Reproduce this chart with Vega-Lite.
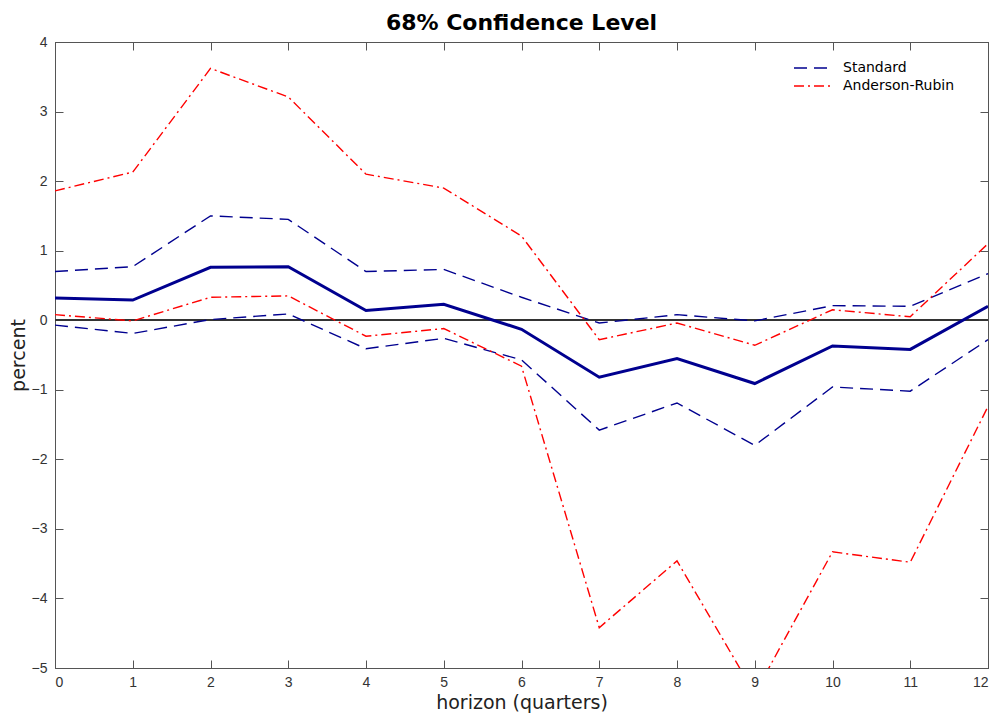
{
  "$schema": "https://vega.github.io/schema/vega-lite/v6.json",
  "autosize": "none",
  "width": 933,
  "height": 626,
  "padding": {"left": 55, "top": 42, "right": 7, "bottom": 51},
  "background": "white",
  "config": {
    "view": {"stroke": "#555", "strokeWidth": 1},
    "font": "DejaVu Sans"
  },
  "title": {"text": "68% Confidence Level", "fontSize": 22, "font": "DejaVu Sans", "fontWeight": "bold", "color": "#000", "offset": 0},
  "data": {
    "values": [
      {"h": 0, "series": "Estimate", "bound": "mid", "value": 0.32},
      {"h": 1, "series": "Estimate", "bound": "mid", "value": 0.29},
      {"h": 2, "series": "Estimate", "bound": "mid", "value": 0.76},
      {"h": 3, "series": "Estimate", "bound": "mid", "value": 0.77},
      {"h": 4, "series": "Estimate", "bound": "mid", "value": 0.14},
      {"h": 5, "series": "Estimate", "bound": "mid", "value": 0.23},
      {"h": 6, "series": "Estimate", "bound": "mid", "value": -0.13},
      {"h": 7, "series": "Estimate", "bound": "mid", "value": -0.82},
      {"h": 8, "series": "Estimate", "bound": "mid", "value": -0.55},
      {"h": 9, "series": "Estimate", "bound": "mid", "value": -0.91},
      {"h": 10, "series": "Estimate", "bound": "mid", "value": -0.37},
      {"h": 11, "series": "Estimate", "bound": "mid", "value": -0.42},
      {"h": 12, "series": "Estimate", "bound": "mid", "value": 0.2},

      {"h": 0, "series": "Standard", "bound": "upper", "value": 0.7},
      {"h": 1, "series": "Standard", "bound": "upper", "value": 0.77},
      {"h": 2, "series": "Standard", "bound": "upper", "value": 1.5},
      {"h": 3, "series": "Standard", "bound": "upper", "value": 1.45},
      {"h": 4, "series": "Standard", "bound": "upper", "value": 0.7},
      {"h": 5, "series": "Standard", "bound": "upper", "value": 0.73},
      {"h": 6, "series": "Standard", "bound": "upper", "value": 0.33},
      {"h": 7, "series": "Standard", "bound": "upper", "value": -0.04},
      {"h": 8, "series": "Standard", "bound": "upper", "value": 0.08},
      {"h": 9, "series": "Standard", "bound": "upper", "value": -0.01},
      {"h": 10, "series": "Standard", "bound": "upper", "value": 0.21},
      {"h": 11, "series": "Standard", "bound": "upper", "value": 0.2},
      {"h": 12, "series": "Standard", "bound": "upper", "value": 0.67},

      {"h": 0, "series": "Standard", "bound": "lower", "value": -0.07},
      {"h": 1, "series": "Standard", "bound": "lower", "value": -0.19},
      {"h": 2, "series": "Standard", "bound": "lower", "value": 0.01},
      {"h": 3, "series": "Standard", "bound": "lower", "value": 0.09},
      {"h": 4, "series": "Standard", "bound": "lower", "value": -0.41},
      {"h": 5, "series": "Standard", "bound": "lower", "value": -0.26},
      {"h": 6, "series": "Standard", "bound": "lower", "value": -0.57},
      {"h": 7, "series": "Standard", "bound": "lower", "value": -1.58},
      {"h": 8, "series": "Standard", "bound": "lower", "value": -1.19},
      {"h": 9, "series": "Standard", "bound": "lower", "value": -1.8},
      {"h": 10, "series": "Standard", "bound": "lower", "value": -0.96},
      {"h": 11, "series": "Standard", "bound": "lower", "value": -1.02},
      {"h": 12, "series": "Standard", "bound": "lower", "value": -0.28},

      {"h": 0, "series": "Anderson-Rubin", "bound": "upper", "value": 1.86},
      {"h": 1, "series": "Anderson-Rubin", "bound": "upper", "value": 2.13},
      {"h": 2, "series": "Anderson-Rubin", "bound": "upper", "value": 3.62},
      {"h": 3, "series": "Anderson-Rubin", "bound": "upper", "value": 3.21},
      {"h": 4, "series": "Anderson-Rubin", "bound": "upper", "value": 2.1},
      {"h": 5, "series": "Anderson-Rubin", "bound": "upper", "value": 1.9},
      {"h": 6, "series": "Anderson-Rubin", "bound": "upper", "value": 1.21},
      {"h": 7, "series": "Anderson-Rubin", "bound": "upper", "value": -0.28},
      {"h": 8, "series": "Anderson-Rubin", "bound": "upper", "value": -0.04},
      {"h": 9, "series": "Anderson-Rubin", "bound": "upper", "value": -0.36},
      {"h": 10, "series": "Anderson-Rubin", "bound": "upper", "value": 0.15},
      {"h": 11, "series": "Anderson-Rubin", "bound": "upper", "value": 0.05},
      {"h": 12, "series": "Anderson-Rubin", "bound": "upper", "value": 1.1},

      {"h": 0, "series": "Anderson-Rubin", "bound": "lower", "value": 0.08},
      {"h": 1, "series": "Anderson-Rubin", "bound": "lower", "value": -0.01},
      {"h": 2, "series": "Anderson-Rubin", "bound": "lower", "value": 0.33},
      {"h": 3, "series": "Anderson-Rubin", "bound": "lower", "value": 0.35},
      {"h": 4, "series": "Anderson-Rubin", "bound": "lower", "value": -0.23},
      {"h": 5, "series": "Anderson-Rubin", "bound": "lower", "value": -0.12},
      {"h": 6, "series": "Anderson-Rubin", "bound": "lower", "value": -0.66},
      {"h": 7, "series": "Anderson-Rubin", "bound": "lower", "value": -4.42},
      {"h": 8, "series": "Anderson-Rubin", "bound": "lower", "value": -3.46},
      {"h": 9, "series": "Anderson-Rubin", "bound": "lower", "value": -5.37},
      {"h": 10, "series": "Anderson-Rubin", "bound": "lower", "value": -3.33},
      {"h": 11, "series": "Anderson-Rubin", "bound": "lower", "value": -3.48},
      {"h": 12, "series": "Anderson-Rubin", "bound": "lower", "value": -1.24}
    ]
  },
  "resolve": {"axis": {"x": "independent", "y": "independent"}},
  "layer": [
    {
      "mark": {"type": "rule", "color": "#333", "strokeWidth": 0.7},
      "encoding": {
        "y": {"datum": 0, "type": "quantitative", "scale": {"domain": [-5, 4]},
          "axis": {"orient": "left", "values": [-5, -4, -3, -2, -1, 0, 1, 2, 3, 4], "grid": false, "tickSize": -8, "tickColor": "#555", "domainColor": "#555", "labelFont": "Liberation Sans", "labelFontSize": 14, "labelColor": "#333", "labelPadding": 16, "title": "percent", "titleFont": "DejaVu Sans", "titleFontSize": 19, "titleFontWeight": "normal", "titleColor": "#222", "titlePadding": 3}}
      }
    },
    {
      "transform": [{"filter": "datum.series !== 'Estimate'"}],
      "mark": {"type": "line", "strokeWidth": 1.4, "clip": true},
      "encoding": {
        "x": {"field": "h", "type": "quantitative", "scale": {"domain": [0, 12], "nice": false},
          "axis": {"orient": "bottom", "values": [0,1,2,3,4,5,6,7,8,9,10,11,12], "grid": false, "tickSize": -8, "tickColor": "#555", "domainColor": "#555", "labelFont": "Liberation Sans", "labelFontSize": 14, "labelColor": "#333", "labelPadding": 15, "title": "horizon (quarters)", "titleFont": "DejaVu Sans", "titleFontSize": 19, "titleFontWeight": "normal", "titleColor": "#222", "titlePadding": 4}},
        "y": {"field": "value", "type": "quantitative", "scale": {"domain": [-5, 4]}, "axis": null},
        "color": {"field": "series", "type": "nominal",
          "scale": {"domain": ["Standard", "Anderson-Rubin"], "range": ["#00008f", "#ff0000"]},
          "legend": {"orient": "none", "legendX": 748, "legendY": 15, "title": null, "symbolType": "M-2,0L2,0", "symbolSize": 400, "symbolStrokeWidth": 1.6, "symbolFillColor": "transparent", "labelFont": "DejaVu Sans", "labelFontSize": 14, "labelColor": "#000", "rowPadding": 0, "labelOffset": 18}},
        "strokeDash": {"field": "series", "type": "nominal",
          "scale": {"domain": ["Standard", "Anderson-Rubin"], "range": [[13, 7], [10, 4, 2, 4]]}},
        "detail": {"field": "bound", "type": "nominal"}
      }
    },
    {
      "transform": [{"filter": "datum.series === 'Estimate'"}],
      "mark": {"type": "line", "strokeWidth": 3, "color": "#00008f", "clip": true},
      "encoding": {
        "x": {"field": "h", "type": "quantitative", "scale": {"domain": [0, 12], "nice": false},
          "axis": {"orient": "top", "values": [0,1,2,3,4,5,6,7,8,9,10,11,12], "grid": false, "tickSize": -8, "tickColor": "#555", "domainColor": "#555", "labels": false, "title": null}},
        "y": {"field": "value", "type": "quantitative", "scale": {"domain": [-5, 4]},
          "axis": {"orient": "right", "values": [-5, -4, -3, -2, -1, 0, 1, 2, 3, 4], "grid": false, "tickSize": -8, "tickColor": "#555", "domainColor": "#555", "labels": false, "title": null}}
      }
    }
  ]
}
